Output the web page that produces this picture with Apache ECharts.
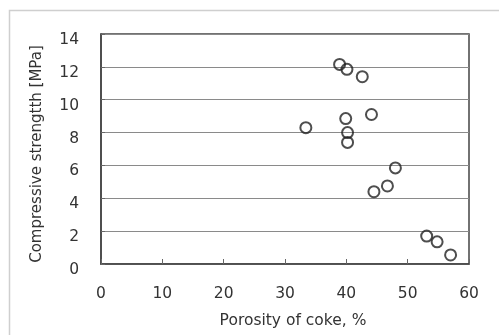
<!DOCTYPE html>
<html>
<head>
<meta charset="utf-8">
<script src="https://cdn.jsdelivr.net/npm/echarts@6/dist/echarts.min.js"></script>
<style>html,body{margin:0;padding:0;background:#fff;}#c{width:499px;height:335px;}</style>
</head>
<body>
<div id="c"></div>
<script>
var porosity = [38.9, 40.1, 42.6, 44.1, 33.4, 39.9, 40.2, 40.2, 48.0, 46.7, 44.5, 53.1, 54.8, 57.0];
var strength = [12.15, 11.85, 11.4, 9.1, 8.3, 8.85, 8.0, 7.4, 5.85, 4.75, 4.4, 1.7, 1.35, 0.55];
var xTicks = [0, 10, 20, 30, 40, 50, 60];
var yTicks = [0, 2, 4, 6, 8, 10, 12, 14];
var xTitle = 'Porosity of coke, %';
var yTitle = 'Compressive strengtth [MPa]';

var pts = porosity.map(function (p, i) { return [p, strength[i]]; });
var font = 'DejaVu Sans';
var chart = echarts.init(document.getElementById('c'), null, { renderer: 'canvas' });
chart.setOption({
  animation: false,
  backgroundColor: '#fff',
  graphic: [{
    type: 'rect', silent: true,
    shape: { x: 9.5, y: 10.5, width: 700, height: 700 },
    style: { fill: 'none', stroke: '#cfcfcf', lineWidth: 1.5 }
  }],
  grid: { left: 101, right: 30, top: 34, bottom: 71, show: true, borderColor: '#444', borderWidth: 1.5, backgroundColor: 'transparent' },
  xAxis: {
    type: 'value', min: xTicks[0], max: xTicks[xTicks.length - 1], interval: 10,
    name: xTitle, nameLocation: 'middle', nameGap: 49,
    nameTextStyle: { fontFamily: font, fontSize: 15.5, color: '#333', padding: [0, 0, 0, 16] },
    axisLine: { show: true, onZero: false, lineStyle: { color: '#444', width: 1.5 } },
    axisTick: { show: true, inside: true, length: 5, lineStyle: { color: '#666' } },
    axisLabel: { fontFamily: font, fontSize: 15.5, color: '#333', margin: 22 },
    splitLine: { show: false }
  },
  yAxis: {
    type: 'value', min: yTicks[0], max: yTicks[yTicks.length - 1], interval: 2,
    name: yTitle, nameLocation: 'middle', nameGap: 56,
    nameTextStyle: { fontFamily: font, fontSize: 15, color: '#333', padding: [0, 10, 0, 0] },
    axisLine: { show: true, onZero: false, lineStyle: { color: '#444', width: 1.5 } },
    axisTick: { show: true, inside: true, length: 4, lineStyle: { color: '#666' } },
    axisLabel: { fontFamily: font, fontSize: 15.5, color: '#333', margin: 22, verticalAlign: 'top', lineHeight: 12 },
    splitLine: { show: true, lineStyle: { color: '#8a8a8a', width: 1 } }
  },
  series: [{
    type: 'scatter', data: pts, symbol: 'circle', symbolSize: 11,
    itemStyle: { color: 'rgba(255,255,255,0)', borderColor: '#222', borderWidth: 2 }
  }]
});
</script>
</body>
</html>
